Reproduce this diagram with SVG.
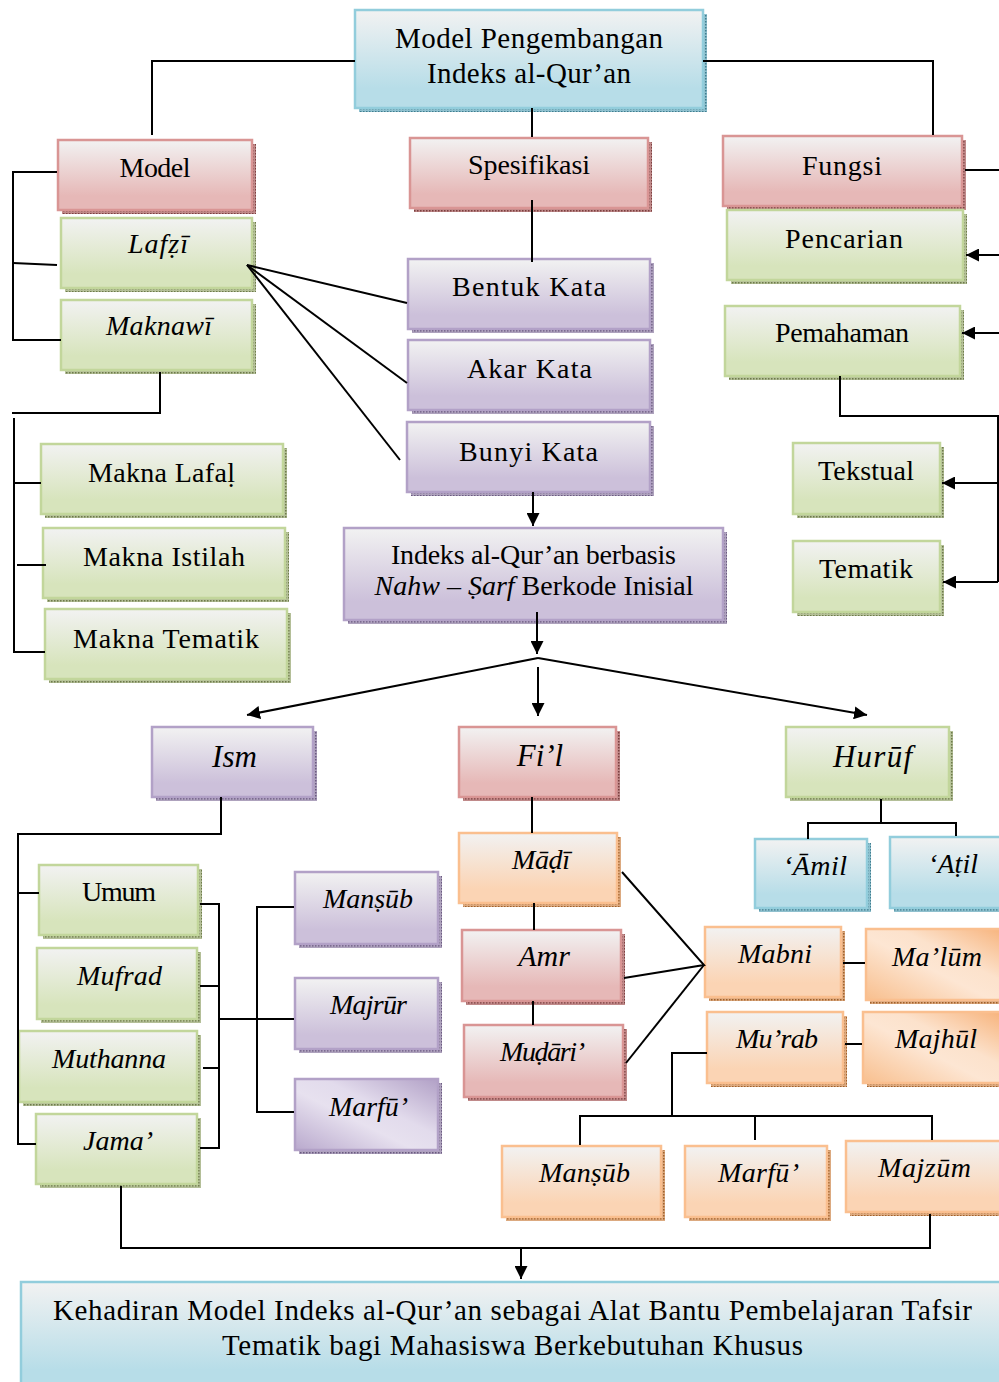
<svg xmlns="http://www.w3.org/2000/svg" width="999" height="1382" viewBox="0 0 999 1382">
<defs>
<linearGradient id="gBlue" x1="0" y1="0" x2="0" y2="1"><stop offset="0" stop-color="#f2f2f2"/><stop offset="0.8" stop-color="#b7dde8"/></linearGradient>
<linearGradient id="gRed" x1="0" y1="0" x2="0" y2="1"><stop offset="0" stop-color="#f2f2f2"/><stop offset="0.8" stop-color="#e6b8b7"/></linearGradient>
<linearGradient id="gGreen" x1="0" y1="0" x2="0" y2="1"><stop offset="0" stop-color="#f2f2f2"/><stop offset="0.8" stop-color="#d7e4bc"/></linearGradient>
<linearGradient id="gPurple" x1="0" y1="0" x2="0" y2="1"><stop offset="0" stop-color="#f2f2f2"/><stop offset="0.8" stop-color="#ccc0da"/></linearGradient>
<linearGradient id="gOrange" x1="0" y1="0" x2="0" y2="1"><stop offset="0" stop-color="#f2f2f2"/><stop offset="0.8" stop-color="#fbd4b4"/></linearGradient>
<linearGradient id="gOrangeD" x1="0" y1="1" x2="1" y2="0"><stop offset="0" stop-color="#f8bf8e"/><stop offset="0.45" stop-color="#fde6d3"/><stop offset="0.62" stop-color="#fce2cc"/><stop offset="1" stop-color="#f7b27a"/></linearGradient>
<linearGradient id="gPurpleD" x1="0" y1="1" x2="1" y2="0"><stop offset="0" stop-color="#b9a9cd"/><stop offset="0.42" stop-color="#e7e1ef"/><stop offset="0.6" stop-color="#e2dbec"/><stop offset="1" stop-color="#b1a0c6"/></linearGradient>
<pattern id="pBlue" width="3" height="3" patternUnits="userSpaceOnUse"><rect width="3" height="3" fill="#8fc0ce"/><rect width="1.5" height="1.5" fill="#3f7d8f"/></pattern>
<pattern id="pRed" width="3" height="3" patternUnits="userSpaceOnUse"><rect width="3" height="3" fill="#c08a8a"/><rect width="1.5" height="1.5" fill="#7a3f3f"/></pattern>
<pattern id="pGreen" width="3" height="3" patternUnits="userSpaceOnUse"><rect width="3" height="3" fill="#b4bf98"/><rect width="1.5" height="1.5" fill="#6d7a4a"/></pattern>
<pattern id="pPurple" width="3" height="3" patternUnits="userSpaceOnUse"><rect width="3" height="3" fill="#aea2bd"/><rect width="1.5" height="1.5" fill="#6a5a80"/></pattern>
<pattern id="pOrange" width="3" height="3" patternUnits="userSpaceOnUse"><rect width="3" height="3" fill="#dcaa80"/><rect width="1.5" height="1.5" fill="#a0602a"/></pattern>
<marker id="arr" viewBox="0 0 10 10" refX="10" refY="5" markerWidth="13" markerHeight="13" markerUnits="userSpaceOnUse" orient="auto"><path d="M0,0 L10,5 L0,10 z" fill="#000"/></marker>
<style>
.bx{stroke-width:2.5}
.blue .bx{fill:url(#gBlue);stroke:#92cddc}.blue .sh{fill:url(#pBlue)}
.red .bx{fill:url(#gRed);stroke:#d99594}.red .sh{fill:url(#pRed)}
.green .bx{fill:url(#gGreen);stroke:#c2d69b}.green .sh{fill:url(#pGreen)}
.purple .bx{fill:url(#gPurple);stroke:#b2a1c7}.purple .sh{fill:url(#pPurple)}
.orange .bx{fill:url(#gOrange);stroke:#fabf8f}.orange .sh{fill:url(#pOrange)}
.orange .bx.diag{fill:url(#gOrangeD)}
.purple .bx.diag{fill:url(#gPurpleD)}
text{font-family:"Liberation Serif","Times New Roman",serif;font-size:28px;fill:#000;text-anchor:middle}
.it{font-style:italic}
.big{font-size:29px}
.lg{font-size:31px}
#connectors path{fill:none;stroke:#000;stroke-width:2}
#connectors .a{marker-end:url(#arr)}
</style>
</defs>
<rect width="999" height="1382" fill="#fff"/>
<g id="nodes">
<g id="n-main" class="blue"><rect class="sh" x="359" y="14" width="348" height="98"/><rect class="bx" x="355" y="10" width="348" height="98"/><text class="big" x="529" y="48" textLength="268" lengthAdjust="spacing">Model Pengembangan</text><text class="big" x="529" y="83" textLength="204" lengthAdjust="spacing">Indeks al-Qur’an</text></g>
<g id="n-model" class="red"><rect class="sh" x="62" y="144" width="194" height="70"/><rect class="bx" x="58" y="140" width="194" height="70"/><text x="155" y="177" textLength="71" lengthAdjust="spacing">Model</text></g>
<g id="n-spesifikasi" class="red"><rect class="sh" x="414" y="142" width="238" height="70"/><rect class="bx" x="410" y="138" width="238" height="70"/><text x="529" y="174" textLength="122" lengthAdjust="spacing">Spesifikasi</text></g>
<g id="n-fungsi" class="red"><rect class="sh" x="727" y="140" width="239" height="70"/><rect class="bx" x="723" y="136" width="239" height="70"/><text x="842" y="175" textLength="80" lengthAdjust="spacing">Fungsi</text></g>
<g id="n-lafzi" class="green"><rect class="sh" x="65" y="222" width="191" height="70"/><rect class="bx" x="61" y="218" width="191" height="70"/><text class="it" x="158" y="253" textLength="60" lengthAdjust="spacing">Lafẓī</text></g>
<g id="n-maknawi" class="green"><rect class="sh" x="65" y="304" width="191" height="70"/><rect class="bx" x="61" y="300" width="191" height="70"/><text class="it" x="159" y="335" textLength="106" lengthAdjust="spacing">Maknawī</text></g>
<g id="n-pencarian" class="green"><rect class="sh" x="731" y="214" width="236" height="70"/><rect class="bx" x="727" y="210" width="236" height="70"/><text x="844" y="248" textLength="118" lengthAdjust="spacing">Pencarian</text></g>
<g id="n-pemahaman" class="green"><rect class="sh" x="729" y="310" width="235" height="70"/><rect class="bx" x="725" y="306" width="235" height="70"/><text x="842" y="342" textLength="134" lengthAdjust="spacing">Pemahaman</text></g>
<g id="n-bentuk" class="purple"><rect class="sh" x="412" y="263" width="242" height="70"/><rect class="bx" x="408" y="259" width="242" height="70"/><text x="529" y="296" textLength="154" lengthAdjust="spacing">Bentuk Kata</text></g>
<g id="n-akar" class="purple"><rect class="sh" x="412" y="344" width="242" height="70"/><rect class="bx" x="408" y="340" width="242" height="70"/><text x="529.5" y="378" textLength="125" lengthAdjust="spacing">Akar Kata</text></g>
<g id="n-bunyi" class="purple"><rect class="sh" x="411" y="426" width="243" height="70"/><rect class="bx" x="407" y="422" width="243" height="70"/><text x="528.5" y="461" textLength="139" lengthAdjust="spacing">Bunyi Kata</text></g>
<g id="n-makna-lafal" class="green"><rect class="sh" x="45" y="448" width="242" height="70"/><rect class="bx" x="41" y="444" width="242" height="70"/><text x="161.5" y="482" textLength="147" lengthAdjust="spacing">Makna Lafaḷ</text></g>
<g id="n-makna-istilah" class="green"><rect class="sh" x="47" y="532" width="242" height="70"/><rect class="bx" x="43" y="528" width="242" height="70"/><text x="164" y="566" textLength="162" lengthAdjust="spacing">Makna Istilah</text></g>
<g id="n-makna-tematik" class="green"><rect class="sh" x="49" y="613" width="242" height="70"/><rect class="bx" x="45" y="609" width="242" height="70"/><text x="166" y="648" textLength="186" lengthAdjust="spacing">Makna Tematik</text></g>
<g id="n-tekstual" class="green"><rect class="sh" x="797" y="447" width="147" height="71"/><rect class="bx" x="793" y="443" width="147" height="71"/><text x="866" y="480" textLength="96" lengthAdjust="spacing">Tekstual</text></g>
<g id="n-tematik" class="green"><rect class="sh" x="797" y="545" width="147" height="71"/><rect class="bx" x="793" y="541" width="147" height="71"/><text x="866" y="578" textLength="94" lengthAdjust="spacing">Tematik</text></g>
<g id="n-indeks" class="purple"><rect class="sh" x="348" y="532" width="379" height="92"/><rect class="bx" x="344" y="528" width="379" height="92"/><text x="533.5" y="564" textLength="285" lengthAdjust="spacing">Indeks al-Qur’an berbasis</text><text x="534" y="595"><tspan class="it">Nahw</tspan> – <tspan class="it">Ṣarf</tspan> Berkode Inisial</text></g>
<g id="n-ism" class="purple"><rect class="sh" x="156" y="731" width="161" height="70"/><rect class="bx" x="152" y="727" width="161" height="70"/><text class="it lg" x="234.5" y="767">Ism</text></g>
<g id="n-fil" class="red"><rect class="sh" x="463" y="731" width="157" height="70"/><rect class="bx" x="459" y="727" width="157" height="70"/><text class="it lg" x="540" y="766">Fi’l</text></g>
<g id="n-huruf" class="green"><rect class="sh" x="790" y="731" width="163" height="70"/><rect class="bx" x="786" y="727" width="163" height="70"/><text class="it lg" x="872.5" y="767" textLength="79" lengthAdjust="spacing">Hurūf</text></g>
<g id="n-amil" class="blue"><rect class="sh" x="759" y="843" width="112" height="69"/><rect class="bx" x="755" y="839" width="112" height="69"/><text class="it" x="815" y="875" textLength="64" lengthAdjust="spacing">‘Āmil</text></g>
<g id="n-atil" class="blue"><rect class="sh" x="894" y="841" width="115" height="71"/><rect class="bx" x="890" y="837" width="115" height="71"/><text class="it" x="953" y="873" textLength="50" lengthAdjust="spacing">‘Aṭil</text></g>
<g id="n-madi" class="orange"><rect class="sh" x="463" y="837" width="158" height="70"/><rect class="bx" x="459" y="833" width="158" height="70"/><text class="it" x="541" y="869" textLength="58" lengthAdjust="spacing">Māḍī</text></g>
<g id="n-amr" class="red"><rect class="sh" x="466" y="934" width="159" height="71"/><rect class="bx" x="462" y="930" width="159" height="71"/><text class="it" x="544" y="966" style="font-size:30px">Amr</text></g>
<g id="n-mudari" class="red"><rect class="sh" x="468" y="1029" width="159" height="72"/><rect class="bx" x="464" y="1025" width="159" height="72"/><text class="it" x="542.5" y="1061" textLength="85" lengthAdjust="spacing">Muḍāri’</text></g>
<g id="n-mabni" class="orange"><rect class="sh" x="709" y="931" width="136" height="70"/><rect class="bx" x="705" y="927" width="136" height="70"/><text class="it" x="775" y="963" textLength="74" lengthAdjust="spacing">Mabni</text></g>
<g id="n-malum" class="orange"><rect class="sh" x="870" y="933" width="140" height="71"/><rect class="bx diag" x="866" y="929" width="140" height="71"/><text class="it" x="937" y="966" textLength="90" lengthAdjust="spacing">Ma’lūm</text></g>
<g id="n-murab" class="orange"><rect class="sh" x="711" y="1016" width="136" height="71"/><rect class="bx" x="707" y="1012" width="136" height="71"/><text class="it" x="777" y="1048" textLength="82" lengthAdjust="spacing">Mu’rab</text></g>
<g id="n-majhul" class="orange"><rect class="sh" x="867" y="1016" width="140" height="71"/><rect class="bx diag" x="863" y="1012" width="140" height="71"/><text class="it" x="936" y="1048" textLength="82" lengthAdjust="spacing">Majhūl</text></g>
<g id="n-mansub-fil" class="orange"><rect class="sh" x="506" y="1150" width="159" height="71"/><rect class="bx" x="502" y="1146" width="159" height="71"/><text class="it" x="584.5" y="1182" textLength="91" lengthAdjust="spacing">Manṣūb</text></g>
<g id="n-marfu-fil" class="orange"><rect class="sh" x="689" y="1150" width="142" height="71"/><rect class="bx" x="685" y="1146" width="142" height="71"/><text class="it" x="758.5" y="1182" textLength="81" lengthAdjust="spacing">Marfū’</text></g>
<g id="n-majzum" class="orange"><rect class="sh" x="850" y="1145" width="160" height="71"/><rect class="bx" x="846" y="1141" width="160" height="71"/><text class="it" x="924.5" y="1177" textLength="93" lengthAdjust="spacing">Majzūm</text></g>
<g id="n-umum" class="green"><rect class="sh" x="43" y="869" width="159" height="70"/><rect class="bx" x="39" y="865" width="159" height="70"/><text x="119" y="901" textLength="74" lengthAdjust="spacing">Umum</text></g>
<g id="n-mufrad" class="green"><rect class="sh" x="41" y="952" width="160" height="71"/><rect class="bx" x="37" y="948" width="160" height="71"/><text class="it" x="119.5" y="985" textLength="85" lengthAdjust="spacing">Mufrad</text></g>
<g id="n-muthanna" class="green"><rect class="sh" x="23" y="1035" width="178" height="71"/><rect class="bx" x="19" y="1031" width="178" height="71"/><text class="it" x="109" y="1068" textLength="114" lengthAdjust="spacing">Muthanna</text></g>
<g id="n-jama" class="green"><rect class="sh" x="40" y="1118" width="161" height="70"/><rect class="bx" x="36" y="1114" width="161" height="70"/><text class="it" x="118" y="1150" textLength="70" lengthAdjust="spacing">Jama’</text></g>
<g id="n-mansub-ism" class="purple"><rect class="sh" x="299" y="876" width="143" height="72"/><rect class="bx" x="295" y="872" width="143" height="72"/><text class="it" x="368" y="908" textLength="90" lengthAdjust="spacing">Manṣūb</text></g>
<g id="n-majrur" class="purple"><rect class="sh" x="299" y="982" width="143" height="71"/><rect class="bx" x="295" y="978" width="143" height="71"/><text class="it" x="368.5" y="1014" textLength="77" lengthAdjust="spacing">Majrūr</text></g>
<g id="n-marfu-ism" class="purple"><rect class="sh" x="299" y="1083" width="143" height="71"/><rect class="bx diag" x="295" y="1079" width="143" height="71"/><text class="it" x="368.5" y="1116" textLength="79" lengthAdjust="spacing">Marfū’</text></g>
<g id="n-kehadiran" class="blue"><rect class="bx" x="21" y="1282" width="995" height="110"/><text class="big" x="512.5" y="1320" textLength="919" lengthAdjust="spacing">Kehadiran Model Indeks al-Qur’an sebagai Alat Bantu Pembelajaran Tafsir</text><text class="big" x="512.5" y="1355" textLength="581" lengthAdjust="spacing">Tematik bagi Mahasiswa Berkebutuhan Khusus</text></g>
</g>
<g id="connectors">
<path d="M355,61 H152 V135"/>
<path d="M703,61 H933 V135"/>
<path d="M532,108 V137"/>
<path d="M532,200 V262"/>
<path d="M57,172 H13 V340 H61"/>
<path d="M13,263 L57,265"/>
<path d="M160,372 V413 H12"/>
<path d="M14,418 V652 H45"/>
<path d="M14,483 H41"/>
<path d="M17,565 H46"/>
<path d="M247,265 L407,303"/>
<path d="M247,265 L407,383"/>
<path d="M247,265 L400,460"/>
<path class="a" d="M533,492 V526"/>
<path d="M965,170 H999"/>
<path class="a" d="M999,255 H966"/>
<path class="a" d="M999,333 H962"/>
<path d="M840,376 V416 H998 V582"/>
<path class="a" d="M998,483 H942"/>
<path class="a" d="M998,582 H943"/>
<path class="a" d="M537,612 V654"/>
<path class="a" d="M538,658 L247,715"/>
<path class="a" d="M538,658 L867,715"/>
<path class="a" d="M538,667 V716"/>
<path d="M221,797 V834 H18 V1144 H36"/>
<path d="M18,893 H39"/>
<path d="M200,904 H219 V1148 H200"/>
<path d="M200,986 H219"/>
<path d="M203,1068 H219"/>
<path d="M219,1019 H294"/>
<path d="M294,907 H257 V1112 H294"/>
<path d="M532,797 V833"/>
<path d="M534,903 V930"/>
<path d="M533,1001 V1025"/>
<path d="M622,872 L704,965 L624,978"/>
<path d="M704,965 L626,1063"/>
<path d="M843,963 H865"/>
<path d="M845,1044 H862"/>
<path d="M707,1053 H672 V1115"/>
<path d="M580,1145 V1116 H932 V1140"/>
<path d="M755,1116 V1140"/>
<path d="M881,799 V823"/>
<path d="M808,839 V823 H956 V836"/>
<path d="M121,1186 V1248 H930 V1214"/>
<path class="a" d="M521,1248 V1279"/>
</g>
</svg>
